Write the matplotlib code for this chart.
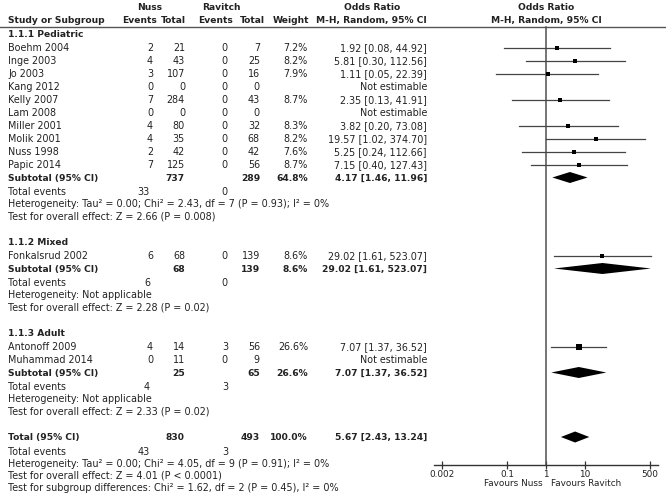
import matplotlib
matplotlib.use("Agg")
import matplotlib.pyplot as plt

plt.rcParams['font.family'] = ['DejaVu Sans']

# ---- data ----
groups = ['1.1.1 Pediatric', '1.1.2 Mixed', '1.1.3 Adult']

studies = [
    ['Boehm 2004', 'Inge 2003', 'Jo 2003', 'Kang 2012', 'Kelly 2007', 'Lam 2008',
     'Miller 2001', 'Molik 2001', 'Nuss 1998', 'Papic 2014'],
    ['Fonkalsrud 2002'],
    ['Antonoff 2009', 'Muhammad 2014'],
]
nuss_events = [[2, 4, 3, 0, 7, 0, 4, 4, 2, 7], [6], [4, 0]]
nuss_total = [[21, 43, 107, 0, 284, 0, 80, 35, 42, 125], [68], [14, 11]]
rav_events = [[0, 0, 0, 0, 0, 0, 0, 0, 0, 0], [0], [3, 0]]
rav_total = [[7, 25, 16, 0, 43, 0, 32, 68, 42, 56], [139], [56, 9]]
weight = [[7.2, 8.2, 7.9, None, 8.7, None, 8.3, 8.2, 7.6, 8.7], [8.6], [26.6, None]]
or_est = [[1.92, 5.81, 1.11, None, 2.35, None, 3.82, 19.57, 5.25, 7.15], [29.02], [7.07, None]]
or_lo = [[0.08, 0.30, 0.05, None, 0.13, None, 0.20, 1.02, 0.24, 0.40], [1.61], [1.37, None]]
or_hi = [[44.92, 112.56, 22.39, None, 41.91, None, 73.08, 374.70, 112.66, 127.43], [523.07], [36.52, None]]

sub_nuss_total = [737, 68, 25]
sub_rav_total = [289, 139, 65]
sub_weight = [64.8, 8.6, 26.6]
sub_est = [4.17, 29.02, 7.07]
sub_lo = [1.46, 1.61, 1.37]
sub_hi = [11.96, 523.07, 36.52]
sub_nuss_events = [33, 6, 4]
sub_rav_events = [0, 0, 3]
sub_het = ['Heterogeneity: Tau\u00b2 = 0.00; Chi\u00b2 = 2.43, df = 7 (P = 0.93); I\u00b2 = 0%',
           'Heterogeneity: Not applicable',
           'Heterogeneity: Not applicable']
sub_test = ['Test for overall effect: Z = 2.66 (P = 0.008)',
            'Test for overall effect: Z = 2.28 (P = 0.02)',
            'Test for overall effect: Z = 2.33 (P = 0.02)']

tot_nuss_total, tot_rav_total, tot_weight = 830, 493, 100.0
tot_est, tot_lo, tot_hi = 5.67, 2.43, 13.24
tot_nuss_events, tot_rav_events = 43, 3
tot_lines = ['Heterogeneity: Tau\u00b2 = 0.00; Chi\u00b2 = 4.05, df = 9 (P = 0.91); I\u00b2 = 0%',
             'Test for overall effect: Z = 4.01 (P < 0.0001)',
             'Test for subgroup differences: Chi\u00b2 = 1.62, df = 2 (P = 0.45), I\u00b2 = 0%']

xticks = [0.002, 0.1, 1, 10, 500]
xtick_labels = ['0.002', '0.1', '1', '10', '500']

# ---- layout (pixels) ----
W, H = 666, 497
FS = 6.9
FSB = 6.6
TXT = '#222222'
LINE = '#555555'
x_name, x_ne, x_nt, x_re, x_rt, x_w, x_or = 8, 153, 185, 228, 260, 308, 427
px_dec, x_one = 38.6, 546      # forest scale: pixels per decade, position of OR = 1
f_left, f_right = 434, 658
y_axis = 465

fig = plt.figure(figsize=(W / 100, H / 100), dpi=100)
ax = fig.add_axes([0, 0, 1, 1])
ax.set_xlim(0, W)
ax.set_ylim(H, 0)
ax.axis('off')

fax = fig.add_axes([f_left / W, 0, (f_right - f_left) / W, 1])
fax.set_xscale('log')
fax.set_xlim(10 ** ((f_left - x_one) / px_dec), 10 ** ((f_right - x_one) / px_dec))
fax.set_ylim(H, 0)
fax.patch.set_alpha(0)
for s in ['top', 'left', 'right']:
    fax.spines[s].set_visible(False)
fax.spines['bottom'].set_position(('data', y_axis))
fax.spines['bottom'].set_color('#333333')
fax.spines['bottom'].set_linewidth(1.0)
fax.set_yticks([])
fax.set_xticks(xticks)
fax.set_xticklabels(xtick_labels)
fax.minorticks_off()
fax.tick_params(axis='x', direction='inout', length=6, width=0.9, color='#333333',
                labelsize=6.4, pad=0.5, labelcolor=TXT)


def txt(x, y, s, ha='left', bold=False, size=None):
    if size is None:
        size = FSB if bold else FS
    ax.text(x, y + 3.3, s, ha=ha, va='baseline', fontsize=size, color=TXT,
            fontweight='bold' if bold else 'normal')


def diamond(y, lo, est, hi):
    fax.fill([lo, est, hi, est], [y, y - 5.5, y, y + 5.5], color='black', lw=0)


# headers
txt(150, 7, 'Nuss', ha='center', bold=True)
txt(221, 7, 'Ravitch', ha='center', bold=True)
txt(372, 7, 'Odds Ratio', ha='center', bold=True)
txt(x_one, 7, 'Odds Ratio', ha='center', bold=True)
hy = 19.5
txt(x_name, hy, 'Study or Subgroup', bold=True)
txt(157, hy, 'Events', ha='right', bold=True)
txt(186, hy, 'Total', ha='right', bold=True)
txt(233, hy, 'Events', ha='right', bold=True)
txt(265, hy, 'Total', ha='right', bold=True)
txt(309, hy, 'Weight', ha='right', bold=True)
txt(427, hy, 'M-H, Random, 95% CI', ha='right', bold=True)
txt(x_one, hy, 'M-H, Random, 95% CI', ha='center', bold=True)
ax.plot([0, W], [27, 27], color=LINE, lw=1.0)

fax.plot([1, 1], [27, y_axis], color='#505050', lw=1.1)

y = 34
for g, name in enumerate(groups):
    txt(x_name, y, name, bold=True)
    y += 14
    for i, st in enumerate(studies[g]):
        txt(x_name, y, st)
        txt(x_ne, y, str(nuss_events[g][i]), ha='right')
        txt(x_nt, y, str(nuss_total[g][i]), ha='right')
        txt(x_re, y, str(rav_events[g][i]), ha='right')
        txt(x_rt, y, str(rav_total[g][i]), ha='right')
        if or_est[g][i] is None:
            txt(x_or, y, 'Not estimable', ha='right')
        else:
            txt(x_w, y, '%.1f%%' % weight[g][i], ha='right')
            txt(x_or, y, '%.2f [%.2f, %.2f]' % (or_est[g][i], or_lo[g][i], or_hi[g][i]), ha='right')
            fax.plot([or_lo[g][i], or_hi[g][i]], [y, y], color='#444444', lw=0.9)
            side = 2.2 + 0.13 * weight[g][i]
            fax.plot(or_est[g][i], y, marker='s', ms=side * 0.72, color='black', mew=0)
        y += 13
    y -= 0.5
    txt(x_name, y, 'Subtotal (95% CI)', bold=True)
    txt(x_nt, y, str(sub_nuss_total[g]), ha='right', bold=True)
    txt(x_rt, y, str(sub_rav_total[g]), ha='right', bold=True)
    txt(x_w, y, '%.1f%%' % sub_weight[g], ha='right', bold=True)
    txt(x_or, y, '%.2f [%.2f, %.2f]' % (sub_est[g], sub_lo[g], sub_hi[g]), ha='right', bold=True)
    diamond(y, sub_lo[g], sub_est[g], sub_hi[g])
    y += 14.5
    txt(x_name, y, 'Total events')
    txt(x_ne - 3, y, str(sub_nuss_events[g]), ha='right')
    txt(x_re, y, str(sub_rav_events[g]), ha='right')
    y += 12
    txt(x_name, y, sub_het[g])
    y += 12
    txt(x_name, y, sub_test[g])
    y += 26

txt(x_name, y, 'Total (95% CI)', bold=True)
txt(x_nt, y, str(tot_nuss_total), ha='right', bold=True)
txt(x_rt, y, str(tot_rav_total), ha='right', bold=True)
txt(x_w, y, '%.1f%%' % tot_weight, ha='right', bold=True)
txt(x_or, y, '%.2f [%.2f, %.2f]' % (tot_est, tot_lo, tot_hi), ha='right', bold=True)
diamond(y, tot_lo, tot_est, tot_hi)
y += 14.5
txt(x_name, y, 'Total events')
txt(x_ne - 3, y, str(tot_nuss_events), ha='right')
txt(x_re, y, str(tot_rav_events), ha='right')
for line in tot_lines:
    y += 12
    txt(x_name, y, line)

txt(x_one - 3, 483, 'Favours Nuss', ha='right', size=6.4)
txt(x_one + 5, 483, 'Favours Ravitch', ha='left', size=6.4)

fig.savefig('out.png', dpi=100)
